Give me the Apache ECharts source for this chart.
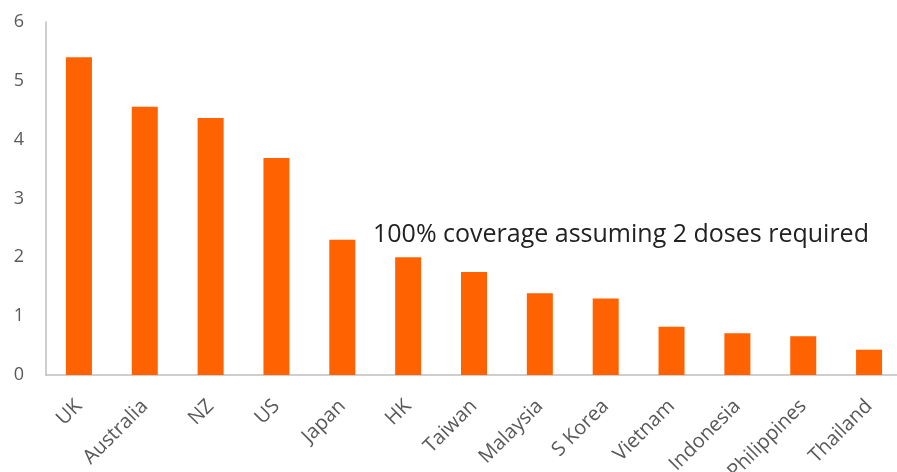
<!DOCTYPE html>
<html>
<head>
<meta charset="utf-8">
<script src="https://cdn.jsdelivr.net/npm/echarts@6/dist/echarts.min.js"></script>
<style>
  html, body { margin: 0; padding: 0; background: #ffffff; }
  #chart { width: 897px; height: 472px; }
</style>
</head>
<body>
<div id="chart"></div>
<script>
// Vaccine doses secured per person, by economy
const categories = ['UK', 'Australia', 'NZ', 'US', 'Japan', 'HK', 'Taiwan', 'Malaysia', 'S Korea', 'Vietnam', 'Indonesia', 'Philippines', 'Thailand'];
const dosesPerPerson = [5.40, 4.56, 4.37, 3.69, 2.30, 2.00, 1.75, 1.39, 1.30, 0.82, 0.71, 0.66, 0.43];
const yTicks = [0, 1, 2, 3, 4, 5, 6];
const noteText = '100% coverage assuming 2 doses required';

const FONT = '"Open Sans", sans-serif';
const chart = echarts.init(document.getElementById('chart'), null, { renderer: 'canvas' });

chart.setOption({
  animation: false,
  backgroundColor: '#ffffff',
  // plot area runs slightly past the right edge of the canvas
  grid: { left: 46, width: 856, top: 22, bottom: 97, containLabel: false, outerBoundsMode: 'none' },
  xAxis: {
    type: 'category',
    data: categories,
    axisLine: { show: true, lineStyle: { color: '#bfbfbf', width: 1.5 } },
    axisTick: { show: false },
    axisLabel: {
      rotate: 45,
      interval: 0,
      margin: 28,
      color: '#595959',
      fontFamily: FONT,
      fontSize: 20
    }
  },
  yAxis: {
    type: 'value',
    min: yTicks[0],
    max: yTicks[yTicks.length - 1],
    interval: 1,
    splitLine: { show: false },
    axisLine: { show: true, lineStyle: { color: '#bfbfbf', width: 1.5 } },
    axisTick: { show: false },
    axisLabel: {
      margin: 22,
      color: '#595959',
      fontFamily: FONT,
      fontSize: 18
    }
  },
  series: [{
    type: 'bar',
    data: dosesPerPerson,
    barWidth: '39.5%',
    itemStyle: { color: '#FF6200' }
  }],
  graphic: [{
    type: 'text',
    left: 373,
    top: 222,
    style: {
      text: noteText,
      fill: '#222222',
      font: '25px ' + FONT
    }
  }]
});
</script>
</body>
</html>
